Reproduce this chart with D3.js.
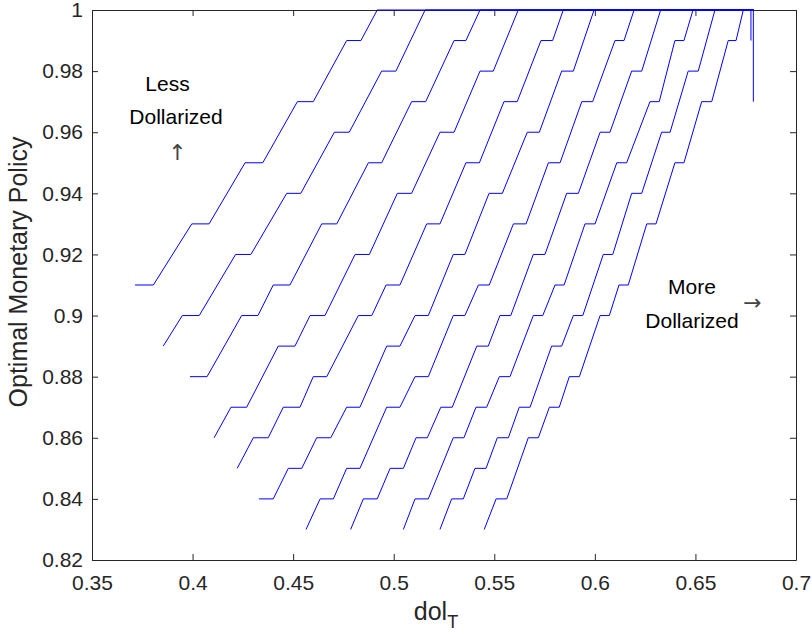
<!DOCTYPE html>
<html>
<head>
<meta charset="utf-8">
<script src="https://cdn.jsdelivr.net/npm/d3@7"></script>
<style>
  body { margin: 0; background: #fff; }
  svg { display: block; font-family: "Liberation Sans", Arial, Helvetica, sans-serif; }
  .tick text { fill: #262626; font-size: 21px; }
  .tick line, .domain { stroke: #262626; }
</style>
</head>
<body>
<svg width="812" height="637"></svg>
<script>
// dol_T values (x) for each curve
const dolT = [
  [0.3714,0.3805,0.3996,0.4082,0.4261,0.4349,0.4521,0.4600,0.4766,0.4837,0.4918,0.6788],
  [0.3854,0.3949,0.4033,0.4214,0.4290,0.4468,0.4538,0.4705,0.4779,0.4940,0.5011,0.5156,0.6788],
  [0.3987,0.4072,0.4244,0.4325,0.4401,0.4484,0.4642,0.4717,0.4874,0.4940,0.5089,0.5159,0.5300,0.5359,0.5429,0.6788],
  [0.4107,0.4191,0.4269,0.4426,0.4509,0.4584,0.4658,0.4808,0.4879,0.5018,0.5089,0.5230,0.5300,0.5429,0.5495,0.5619,0.6788],
  [0.4222,0.4302,0.4376,0.4451,0.4534,0.4600,0.4667,0.4824,0.4891,0.4962,0.5031,0.5164,0.5230,0.5359,0.5426,0.5548,0.5614,0.5732,0.5790,0.5843,0.6788],
  [0.4330,0.4401,0.4476,0.4543,0.4617,0.4687,0.4766,0.4832,0.4965,0.5031,0.5106,0.5172,0.5296,0.5354,0.5474,0.5540,0.5664,0.5724,0.5835,0.5893,0.5996,0.6788],
  [0.4564,0.4634,0.4700,0.4766,0.4832,0.4965,0.5031,0.5106,0.5172,0.5296,0.5354,0.5421,0.5475,0.5595,0.5658,0.5769,0.5827,0.5935,0.5989,0.6100,0.6145,0.6195,0.6788],
  [0.4786,0.4849,0.4918,0.4982,0.5048,0.5111,0.5167,0.5234,0.5291,0.5413,0.5470,0.5528,0.5582,0.5694,0.5752,0.5860,0.5918,0.6026,0.6075,0.6183,0.6233,0.6327,0.6788],
  [0.5048,0.5106,0.5172,0.5296,0.5349,0.5409,0.5462,0.5525,0.5578,0.5694,0.5741,0.5802,0.5847,0.5951,0.6001,0.6109,0.6158,0.6274,0.6320,0.6398,0.6443,0.6488,0.6788],
  [0.5230,0.5288,0.5346,0.5404,0.5459,0.5515,0.5570,0.5624,0.5678,0.5785,0.5835,0.5893,0.5940,0.6042,0.6089,0.6183,0.6233,0.6332,0.6374,0.6464,0.6514,0.6597,0.6776,0.6776],
  [0.5450,0.5509,0.5562,0.5669,0.5719,0.5774,0.5823,0.5873,0.5923,0.6026,0.6072,0.6120,0.6166,0.6258,0.6304,0.6398,0.6443,0.6531,0.6581,0.6663,0.6702,0.6738,0.6788,0.6788]
];

// optimal monetary policy (y) for each curve
const policy = [
  [0.91,0.91,0.93,0.93,0.95,0.95,0.97,0.97,0.99,0.99,1,1],
  [0.89,0.90,0.90,0.92,0.92,0.94,0.94,0.96,0.96,0.98,0.98,1,1],
  [0.88,0.88,0.90,0.90,0.91,0.91,0.93,0.93,0.95,0.95,0.97,0.97,0.99,0.99,1,1],
  [0.86,0.87,0.87,0.89,0.89,0.90,0.90,0.92,0.92,0.94,0.94,0.96,0.96,0.98,0.98,1,1],
  [0.85,0.86,0.86,0.87,0.87,0.88,0.88,0.90,0.90,0.91,0.91,0.93,0.93,0.95,0.95,0.97,0.97,0.99,0.99,1,1],
  [0.84,0.84,0.85,0.85,0.86,0.86,0.87,0.87,0.89,0.89,0.90,0.90,0.92,0.92,0.94,0.94,0.96,0.96,0.98,0.98,1,1],
  [0.83,0.84,0.84,0.85,0.85,0.87,0.87,0.88,0.88,0.90,0.90,0.91,0.91,0.93,0.93,0.95,0.95,0.97,0.97,0.99,0.99,1,1],
  [0.83,0.84,0.84,0.85,0.85,0.86,0.86,0.87,0.87,0.89,0.89,0.90,0.90,0.92,0.92,0.94,0.94,0.96,0.96,0.98,0.98,1,1],
  [0.83,0.84,0.84,0.86,0.86,0.87,0.87,0.88,0.88,0.90,0.90,0.91,0.91,0.93,0.93,0.95,0.95,0.97,0.97,0.99,0.99,1,1],
  [0.83,0.84,0.84,0.85,0.85,0.86,0.86,0.87,0.87,0.89,0.89,0.90,0.90,0.92,0.92,0.94,0.94,0.96,0.96,0.98,0.98,1,1,0.99],
  [0.83,0.84,0.84,0.86,0.86,0.87,0.87,0.88,0.88,0.90,0.90,0.91,0.91,0.93,0.93,0.95,0.95,0.97,0.97,0.99,0.99,1,1,0.97]
];

const xTicks = [0.35, 0.4, 0.45, 0.5, 0.55, 0.6, 0.65, 0.7];
const yTicks = [0.82, 0.84, 0.86, 0.88, 0.9, 0.92, 0.94, 0.96, 0.98, 1];

const svg = d3.select('svg');
const margin = { top: 10, right: 16, bottom: 77, left: 92 };
const width = +svg.attr('width');
const height = +svg.attr('height');
const innerWidth = width - margin.left - margin.right;
const innerHeight = height - margin.top - margin.bottom;

const xScale = d3.scaleLinear().domain([0.35, 0.7]).range([0, innerWidth]);
const yScale = d3.scaleLinear().domain([0.82, 1]).range([innerHeight, 0]);

const g = svg.append('g')
  .attr('transform', `translate(${margin.left},${margin.top})`);

const fmt = d3.format('~g');

// box with inward ticks on all four sides
g.append('g')
  .attr('transform', `translate(0,${innerHeight})`)
  .call(d3.axisBottom(xScale).tickValues(xTicks).tickFormat(fmt)
    .tickSizeInner(-6).tickSizeOuter(0).tickPadding(15));

g.append('g')
  .call(d3.axisLeft(yScale).tickValues(yTicks).tickFormat(fmt)
    .tickSizeInner(-6).tickSizeOuter(0).tickPadding(9));

g.append('g')
  .call(d3.axisTop(xScale).tickValues(xTicks)
    .tickSizeInner(-6).tickSizeOuter(0))
  .selectAll('text').remove();

g.append('g')
  .attr('transform', `translate(${innerWidth},0)`)
  .call(d3.axisRight(yScale).tickValues(yTicks)
    .tickSizeInner(-6).tickSizeOuter(0))
  .selectAll('text').remove();

g.selectAll('.domain').attr('stroke-width', 1);

// curves
const line = d3.line()
  .x(d => xScale(d[0]))
  .y(d => yScale(d[1]));

const curves = dolT.map((xs, i) => xs.map((x, j) => [x, policy[i][j]]));

g.selectAll('.curve').data(curves)
  .enter().append('path')
    .attr('class', 'curve')
    .attr('fill', 'none')
    .attr('stroke', '#0000ff')
    .attr('stroke-width', 1)
    .attr('d', line);

// axis labels
svg.append('text')
  .attr('transform', `translate(27,272) rotate(-90)`)
  .attr('text-anchor', 'middle')
  .attr('fill', '#262626')
  .attr('font-size', 25)
  .text('Optimal Monetary Policy');

const xl = svg.append('text')
  .attr('x', 436)
  .attr('y', 620)
  .attr('text-anchor', 'middle')
  .attr('fill', '#262626')
  .attr('font-size', 25);
xl.append('tspan').text('dol');
xl.append('tspan').attr('font-size', 18).attr('dy', 8).text('T');

// annotations
const note = (x, y, t, size, family, color) => svg.append('text')
  .attr('x', x).attr('y', y)
  .attr('text-anchor', 'middle')
  .attr('fill', color || '#000')
  .attr('font-size', size || 20)
  .attr('font-family', family || null)
  .text(t);

note(167.5, 91, 'Less', 21);
note(176, 124, 'Dollarized', 21);
note(177.5, 160, '\u2191', 22, '"DejaVu Sans"', '#444');
note(692, 294, 'More', 21);
note(692, 328, 'Dollarized', 21);
note(752.5, 310, '\u2192', 22, '"DejaVu Sans"', '#444');
</script>
</body>
</html>
